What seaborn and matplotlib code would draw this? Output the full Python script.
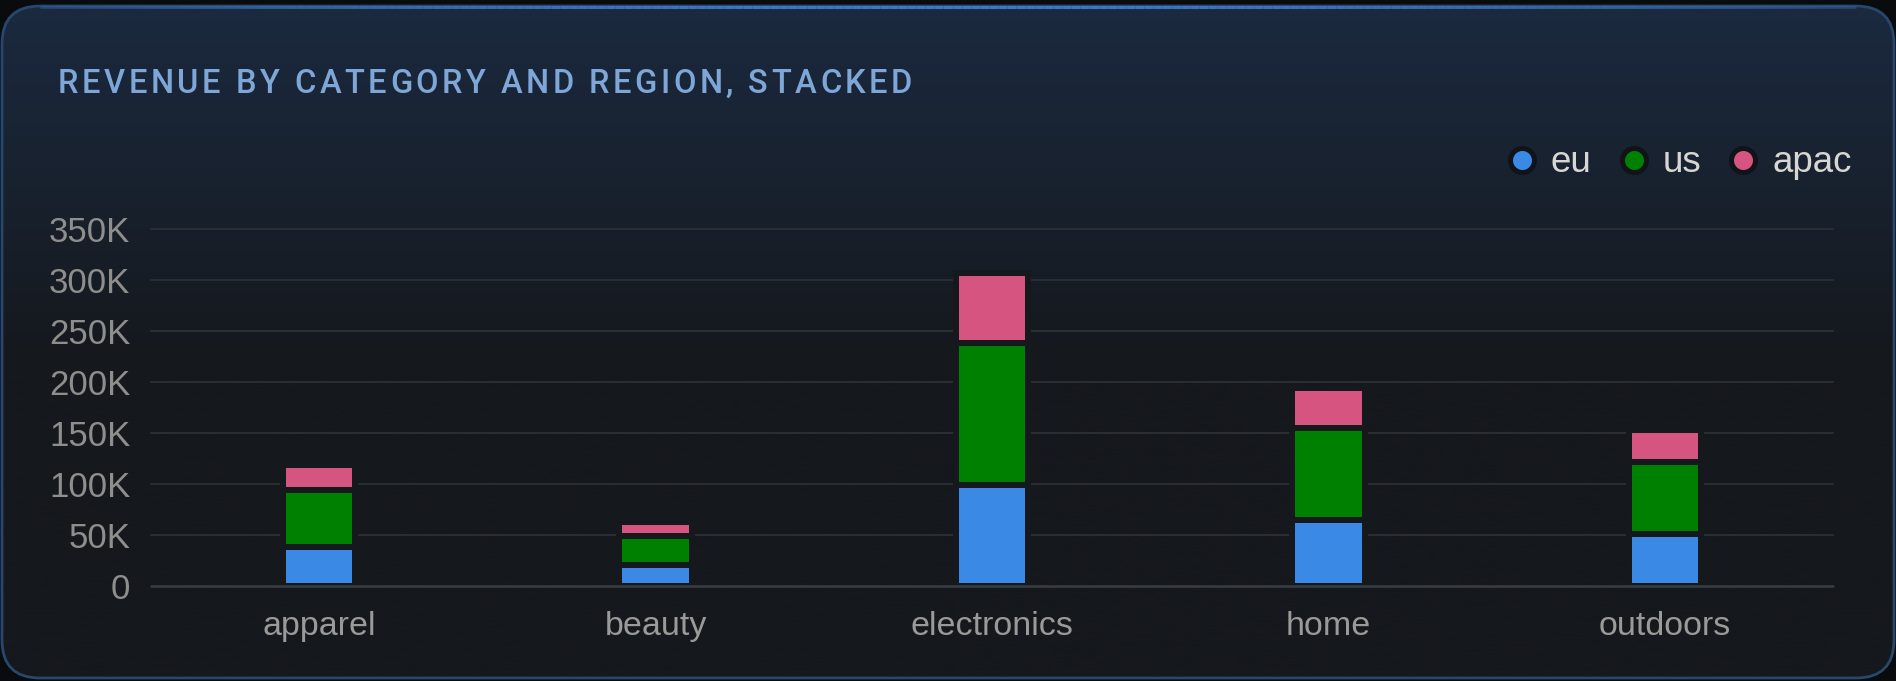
import numpy as np
import pandas as pd
import matplotlib
matplotlib.use("Agg")
import matplotlib.pyplot as plt
import seaborn as sns
from matplotlib.patches import FancyBboxPatch
from matplotlib.lines import Line2D
from matplotlib.ticker import FuncFormatter

# data (revenue, thousands)
categories = ["apparel", "beauty", "electronics", "home", "outdoors"]
regions = ["eu", "us", "apac"]
eu = [38, 21, 99, 65, 51]
us = [56, 28, 139, 90, 70]
apac = [24, 14, 68, 39, 32]
y_ticks = [0, 50, 100, 150, 200, 250, 300, 350]
title = "REVENUE BY CATEGORY AND REGION, STACKED"

colors = {"eu": "#3a89e4", "us": "#008000", "apac": "#d55580"}
bg_bottom = "#15181c"
bg_top = "#1b2a40"

W, H = 1896, 681
sns.set_theme(style="dark")
plt.rcParams["font.family"] = ["Liberation Sans", "DejaVu Sans"]

fig = plt.figure(figsize=(W / 100, H / 100), dpi=100)
fig.patch.set_facecolor("#0a0b0d")

# card background
bg = fig.add_axes([0, 0, 1, 1])
bg.set_xlim(0, W)
bg.set_ylim(H, 0)
bg.axis("off")
card = FancyBboxPatch((2, 6), W - 4, H - 9, boxstyle="round,pad=0,rounding_size=38",
                      facecolor="none", edgecolor="#27476c", linewidth=2.0, zorder=3)
bg.add_patch(card)
grad = np.linspace(0, 1, 256).reshape(-1, 1)
top_rgb = np.array(matplotlib.colors.to_rgb(bg_top))
bot_rgb = np.array(matplotlib.colors.to_rgb(bg_bottom))
mix = np.clip(grad / 0.55, 0, 1)
img = top_rgb * (1 - mix[..., None]) + bot_rgb * mix[..., None]
im = bg.imshow(img, extent=(0, W, H, 0), aspect="auto", zorder=1)
im.set_clip_path(card)
# brighter top edge, fading to the corners
xs = np.linspace(40, W - 40, 200)
for i in range(len(xs) - 1):
    t = abs((xs[i] + xs[i + 1]) / 2 - W / 2) / (W / 2 - 40)
    a = 1 - 0.7 * t ** 2
    bg.plot(xs[i:i + 2], [7, 7], color="#3d78c4", alpha=a, lw=2.2,
            solid_capstyle="butt", zorder=4)

# title with letter spacing
renderer = fig.canvas.get_renderer()
tkw = dict(fontsize=23.5, color="#7ea7d8", family=["Roboto", "DejaVu Sans"], fontweight="medium")
x0, x1, ybase = 58, 912, 93


def text_w(s):
    t = fig.text(0, 0, s, **tkw)
    w = t.get_window_extent(renderer).width
    t.remove()
    return w


bar_w = text_w("|")
natural = text_w(title)
track = (x1 - x0 - natural) / (len(title) - 1)
for i, ch in enumerate(title):
    if ch == " ":
        continue
    off = text_w(title[:i] + "|") - bar_w if i else 0
    fig.text((x0 + off + i * track) / W, 1 - ybase / H, ch, va="baseline", ha="left", **tkw)

# stacked bars
ax = fig.add_axes([151 / W, 95 / H, 1682 / W, 357.5 / H])
ax.set_facecolor("none")
df = pd.DataFrame({"category": categories, "eu": eu, "us": us, "apac": apac})
df["eu_top"] = df["eu"] * 1000
df["us_top"] = (df["eu"] + df["us"]) * 1000
df["apac_top"] = (df["eu"] + df["us"] + df["apac"]) * 1000

for reg, col in [("apac", "apac_top"), ("us", "us_top"), ("eu", "eu_top")]:
    sns.barplot(data=df, x="category", y=col, order=categories, color=colors[reg],
                saturation=1, width=0.215, edgecolor=bg_bottom, linewidth=4.3,
                errorbar=None, ax=ax, zorder=3)

ax.set_xlim(-0.5, 4.5)
ax.set_ylim(0, 350000)
ax.set_yticks([v * 1000 for v in y_ticks])
ax.yaxis.set_major_formatter(FuncFormatter(lambda v, p: "0" if v == 0 else f"{int(v / 1000)}K"))
ax.set_xlabel("")
ax.set_ylabel("")
for s in ax.spines.values():
    s.set_visible(False)
ax.grid(False)
for v in y_ticks[1:]:
    ax.axhline(v * 1000, color="#2a2d31", lw=1.5, zorder=1, clip_on=False)
ax.axhline(0, color="#3a3d42", lw=1.8, zorder=4, clip_on=False)
ax.tick_params(axis="y", length=0, pad=15, labelsize=25, labelcolor="#8e8e8c")
ax.tick_params(axis="x", length=0, pad=18, labelsize=24.5, labelcolor="#9a9a98")

# legend
handles = [Line2D([], [], ls="none", marker="o", markersize=17.3, markerfacecolor=colors[r],
                  markeredgecolor="#101317", markeredgewidth=3.6) for r in regions]
fig.legend(handles, regions, loc="center right", bbox_to_anchor=(1852 / W, 1 - 163 / H),
           ncol=3, frameon=False, fontsize=26.5, handlelength=0.7, handletextpad=0.44,
           columnspacing=0.79, borderpad=0, borderaxespad=0, labelcolor="#d6d6d2")

fig.savefig("out.png", dpi=100, facecolor=fig.get_facecolor())
